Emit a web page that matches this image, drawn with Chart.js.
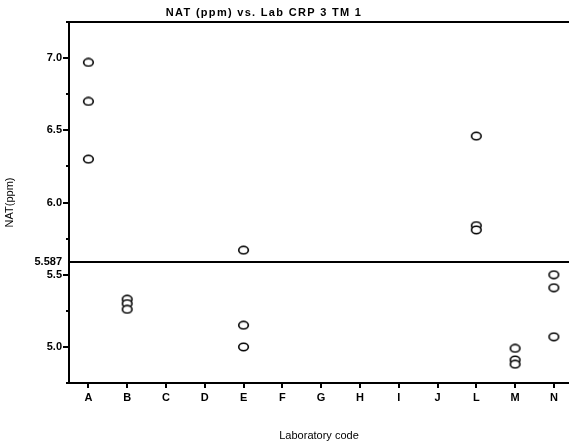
<!DOCTYPE html>
<html>
<head>
<meta charset="utf-8">
<script src="https://cdn.jsdelivr.net/npm/chart.js@4/dist/chart.umd.min.js"></script>
<style>
  body { margin: 0; background: #fff; overflow: hidden; }
  canvas { display: block; }
</style>
</head>
<body>
<canvas id="chart" width="569" height="448"></canvas>
<script>
// Lab codes along the x axis (no K in the original)
const labCodes = ['A', 'B', 'C', 'D', 'E', 'F', 'G', 'H', 'I', 'J', 'L', 'M', 'N'];

// NAT (ppm) results per lab
const labA = [6.97, 6.70, 6.30];
const labB = [5.33, 5.30, 5.26];
const labE = [5.67, 5.15, 5.00];
const labL = [6.46, 5.84, 5.81];
const labM = [4.99, 4.91, 4.88];
const labN = [5.50, 5.41, 5.07];

const results = { A: labA, B: labB, E: labE, L: labL, M: labM, N: labN };

const refValue = 5.587;
const yMajorTicks = [5.0, 5.5, 6.0, 6.5, 7.0];
const yMinorTicks = [4.75, 5.25, 5.75, 6.25, 6.75, 7.25];

const chartTitle = 'NAT (ppm) vs. Lab CRP 3 TM 1';
const xTitle = 'Laboratory code';
const yTitle = 'NAT(ppm)';

// build the points
const points = [];
labCodes.forEach((code, i) => {
    (results[code] || []).forEach(v => points.push({ x: i, y: v }));
});

// open ellipse marker
function makeMarker() {
    const c = document.createElement('canvas');
    c.width = 13;
    c.height = 10;
    const g = c.getContext('2d');
    g.beginPath();
    g.ellipse(6.5, 5, 4.8, 3.7, 0, 0, Math.PI * 2);
    g.fillStyle = '#fff';
    g.fill();
    g.lineWidth = 1.6;
    g.strokeStyle = '#000';
    g.stroke();
    return c;
}

const boldFont = { family: 'Liberation Sans, Arial, sans-serif', size: 11, weight: 'bold' };

const isRef = v => Math.abs(v - refValue) < 1e-6;
const isMinor = v => yMinorTicks.some(m => Math.abs(m - v) < 1e-6);
const isEdge = v => Math.abs(v - 7.25) < 1e-6;

// title drawn by hand so it can have letter spacing, plus the short minor ticks
const extrasPlugin = {
    id: 'extras',
    afterDraw(chart) {
        const ctx = chart.ctx;
        const y = chart.scales.y;
        ctx.save();
        ctx.strokeStyle = '#000';
        ctx.lineWidth = 2;
        yMinorTicks.forEach(v => {
            const py = Math.round(y.getPixelForValue(v));
            ctx.beginPath();
            ctx.moveTo(y.right - 3, py);
            ctx.lineTo(y.right, py);
            ctx.stroke();
        });
        ctx.font = 'bold 11px "Liberation Sans", Arial, sans-serif';
        ctx.letterSpacing = '1.3px';
        ctx.fillStyle = '#000';
        ctx.textAlign = 'center';
        ctx.textBaseline = 'middle';
        ctx.fillText(chartTitle, 264, 13);
        ctx.restore();
    }
};

new Chart(document.getElementById('chart'), {
    type: 'scatter',
    data: {
        datasets: [{
            data: points,
            pointStyle: makeMarker(),
            pointRadius: 5,
            pointHoverRadius: 5
        }]
    },
    options: {
        responsive: false,
        animation: false,
        events: [],
        layout: { autoPadding: false, padding: { top: 22, right: 0, bottom: 0, left: 0 } },
        plugins: { legend: { display: false }, tooltip: { enabled: false } },
        scales: {
            x: {
                type: 'linear',
                min: -0.5,
                max: 12.39,
                afterFit: s => {
                    s.height = 65;
                    s.paddingLeft = 0;
                    s.paddingRight = 0;
                },
                afterBuildTicks: s => { s.ticks = labCodes.map((c, i) => ({ value: i })); },
                ticks: {
                    autoSkip: false,
                    maxRotation: 0,
                    color: '#000',
                    font: boldFont,
                    padding: 3,
                    callback: v => labCodes[v]
                },
                grid: {
                    drawOnChartArea: false,
                    color: '#000',
                    tickColor: '#000',
                    tickLength: 5,
                    lineWidth: 2
                },
                border: { color: '#000', width: 2 },
                title: {
                    display: true,
                    text: xTitle,
                    color: '#000',
                    font: { family: 'Liberation Sans, Arial, sans-serif', size: 11 },
                    padding: { top: 0, bottom: 5 }
                }
            },
            y: {
                min: 4.75,
                max: 7.25,
                afterFit: s => {
                    s.width = 69;
                    s.paddingTop = 0;
                    s.paddingBottom = 0;
                },
                afterBuildTicks: s => {
                    const vals = yMinorTicks.concat(yMajorTicks, [refValue]).sort((a, b) => a - b);
                    s.ticks = vals.map(v => ({ value: v }));
                },
                ticks: {
                    autoSkip: false,
                    color: '#000',
                    font: boldFont,
                    padding: 1,
                    callback: v => {
                        if (isRef(v)) return '5.587';
                        if (yMajorTicks.some(m => Math.abs(m - v) < 1e-6)) return v.toFixed(1);
                        return '';
                    }
                },
                grid: {
                    color: c => (c.tick && (isRef(c.tick.value) || isEdge(c.tick.value))) ? '#000' : 'rgba(0,0,0,0)',
                    tickColor: c => (c.tick && (isRef(c.tick.value) || isMinor(c.tick.value))) ? 'rgba(0,0,0,0)' : '#000',
                    tickLength: 6,
                    lineWidth: 2
                },
                border: { color: '#000', width: 2 },
                title: {
                    display: true,
                    text: yTitle,
                    color: '#000',
                    font: { family: 'Liberation Sans, Arial, sans-serif', size: 11 },
                    padding: { top: 3, bottom: 0 }
                }
            }
        }
    },
    plugins: [extrasPlugin]
});
</script>
</body>
</html>
